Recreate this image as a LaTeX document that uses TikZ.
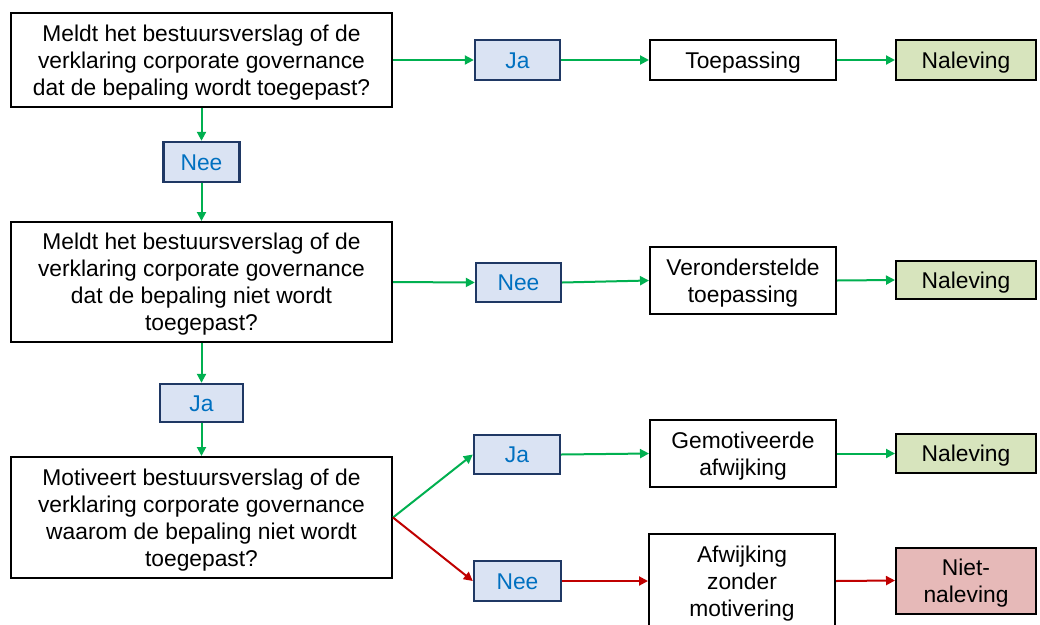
\documentclass[tikz,border=0pt]{standalone}
\usepackage{fontspec}
\setmainfont{Liberation Sans}
\usetikzlibrary{arrows.meta}
\definecolor{okgreen}{HTML}{00B050}
\definecolor{badred}{HTML}{C00000}
\definecolor{navy}{HTML}{1F3864}
\definecolor{answerfill}{HTML}{DAE3F3}
\definecolor{answertext}{HTML}{0070C0}
\definecolor{goodfill}{HTML}{D7E4BD}
\definecolor{badfill}{HTML}{E6B9B8}
% full line strut, so text is centred on the font's whole line box
\newcommand{\ls}{\rule[-0.212em]{0pt}{1.15em}}
\tikzset{
  boxtext/.style={inner sep=0pt, align=center,
    font=\fontsize{22.8}{27}\selectfont},
  box/.style={boxtext, draw=black, line width=2pt, fill=white},
  question/.style={box, minimum width=381pt},
  outcome/.style={box, minimum width=186pt},
  answer/.style={boxtext, draw=navy, line width=2.4pt, fill=answerfill, text=answertext},
  verdict/.style={box, minimum width=140pt},
  good/.style={verdict, fill=goodfill},
  bad/.style={verdict, fill=badfill},
  yesarrow/.style={draw=okgreen, line width=2pt, -{Triangle[length=9pt,width=9pt]}},
  noarrow/.style={draw=badred, line width=2pt, -{Triangle[length=9pt,width=9pt]}},
}
\begin{document}
\begin{tikzpicture}[x=1pt, y=-1pt]
\clip (0,0) rectangle (1040,624);
\fill[white] (0,0) rectangle (1040,624);

% left column of questions
\node[question, minimum height=94pt] (q1) at (201.5,60)
  {\ls Meldt het bestuursverslag of de\\verklaring corporate governance\\dat de bepaling wordt toegepast?\ls};
\node[answer, minimum width=76pt, minimum height=40pt] (n1) at (201.5,162) {\ls Nee};
\node[question, minimum height=120pt] (q2) at (201.5,282)
  {\ls Meldt het bestuursverslag of de\\verklaring corporate governance\\dat de bepaling niet wordt\\toegepast?\ls};
\node[answer, minimum width=83pt, minimum height=38pt] (j2) at (201.5,403) {\ls Ja};
\node[question, minimum height=121pt] (q3) at (201.5,517.5)
  {\ls Motiveert bestuursverslag of de\\verklaring corporate governance\\waarom de bepaling niet wordt\\toegepast?\ls};

% row 1
\node[answer, minimum width=85pt, minimum height=40pt] (j1) at (517.5,60) {\ls Ja};
\node[outcome, minimum height=40pt] (o1) at (743,60) {\ls Toepassing};
\node[good, minimum height=40pt] (v1) at (966,60) {\ls Naleving};

% row 2
\node[answer, minimum width=85pt, minimum height=39pt] (n2) at (518.5,282.5) {\ls Nee};
\node[outcome, minimum height=67pt] (o2) at (743,280.5) {\ls Veronderstelde\\toepassing\ls};
\node[good, minimum height=38pt] (v2) at (966,280) {\ls Naleving};

% row 3
\node[answer, minimum width=86pt, minimum height=39pt] (j3) at (517,454.5) {\ls Ja};
\node[outcome, minimum height=67pt] (o3) at (743,453.5) {\ls Gemotiveerde\\afwijking\ls};
\node[good, minimum height=39pt] (v3) at (966,453.5) {\ls Naleving};

% row 4
\node[answer, minimum width=87pt, minimum height=40pt] (n4) at (517.5,581) {\ls Nee};
\node[outcome, minimum height=94pt] (o4) at (742,581) {\ls Afwijking\\zonder\\motivering\ls};
\node[bad, minimum height=66pt] (v4) at (966,580.5) {\ls Niet-\\naleving\ls};

% vertical flow
\draw[yesarrow] (q1.south) -- (n1.north);
\draw[yesarrow] (n1.south) -- (q2.north);
\draw[yesarrow] (q2.south) -- (j2.north);
\draw[yesarrow] (j2.south) -- (q3.north);

% horizontal flow
\draw[yesarrow] (q1.east) -- (j1.west);
\draw[yesarrow] (j1.east) -- (o1.west);
\draw[yesarrow] (o1.east) -- (v1.west);

\draw[yesarrow] (q2.east) -- (n2.west);
\draw[yesarrow] (n2.east) -- (o2.west);
\draw[yesarrow] (o2.east) -- (v2.west);

\draw[yesarrow] (q3.east) -- (j3.west);
\draw[yesarrow] (j3.east) -- (o3.west);
\draw[yesarrow] (o3.east) -- (v3.west);

\draw[noarrow] (q3.east) -- (n4.west);
\draw[noarrow] (n4.east) -- (o4.west);
\draw[noarrow] (o4.east) -- (v4.west);
\end{tikzpicture}
\end{document}
